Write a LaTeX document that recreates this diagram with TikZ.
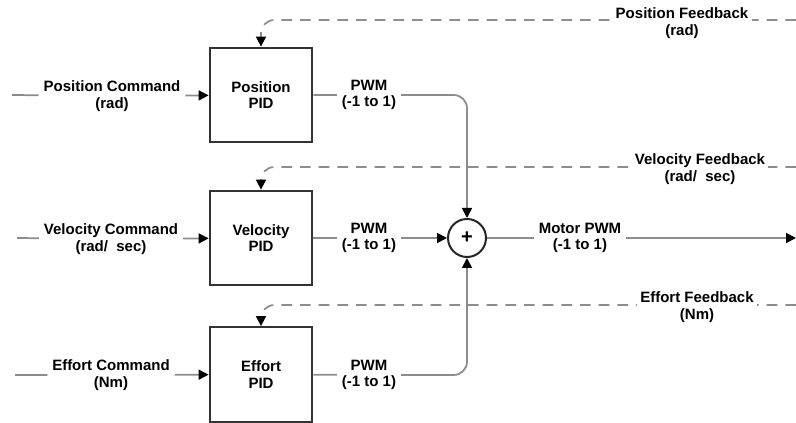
\documentclass[tikz,border=0pt]{standalone}
\usepackage{fontspec}
\setmainfont{Liberation Sans}
\usetikzlibrary{arrows.meta}

\begin{document}
\begin{tikzpicture}[x=0.75pt,y=-0.75pt]
\tikzset{
  pidbox/.style={rectangle,draw=black!80,line width=1.6pt,minimum width=77pt,minimum height=71pt,inner sep=0pt,align=center,font=\fontsize{11.25}{12.5}\selectfont\bfseries},
  sumnode/.style={circle,draw=black!85,line width=1.5pt,minimum size=28.5pt,inner sep=0pt,font=\fontsize{15}{15}\selectfont\bfseries},
  sig/.style={inner sep=3.5pt,align=center,font=\fontsize{11.25}{12.5}\selectfont\bfseries},
  fblabel/.style={sig,fill=white,inner sep=2.5pt},
  wire/.style={draw=black!45,line width=1.3pt},
  feed/.style={wire,dash pattern=on 8pt off 6pt,rounded corners=10pt},
  arrowed/.style={-{Triangle[length=7.5pt,width=7.5pt,color=black]}}
}
\useasboundingbox (0,0) rectangle (796,423);
% blocks
\node[pidbox] (n_posPID) at (261,95) {Position\\PID};
\node[pidbox] (n_velPID) at (261,238) {Velocity\\PID};
\node[pidbox] (n_effPID) at (261,374.5) {Effort\\PID};
\node[sumnode] (n_sum) at (467,238) {+};
% signal labels
\node[sig] (l_posCmd) at (112,96) {Position Command\\(rad)};
\node[sig] (l_velCmd) at (111,239) {Velocity Command\\(rad/\ \ sec)};
\node[sig] (l_effCmd) at (111,375) {Effort Command\\(Nm)};
\node[sig] (l_pwmP) at (369,95) {PWM\\(-1 to 1)};
\node[sig] (l_pwmV) at (369,238) {PWM\\(-1 to 1)};
\node[sig] (l_pwmE) at (369,375) {PWM\\(-1 to 1)};
\node[sig] (l_motor) at (580,238) {Motor PWM\\(-1 to 1)};
% free ends
\coordinate (c_posIn) at (12,95);
\coordinate (c_velIn) at (17,238);
\coordinate (c_effIn) at (15,375);
\coordinate (c_out) at (796,238);
\coordinate (c_posFb) at (796,20);
\coordinate (c_velFb) at (796,167);
\coordinate (c_effFb) at (796,305);
% commands
\draw[wire,arrowed] (c_posIn) -- (l_posCmd) -- (n_posPID);
\draw[wire,arrowed] (c_velIn) -- (l_velCmd) -- (n_velPID);
\draw[wire,arrowed] (c_effIn) -- (l_effCmd) -- (n_effPID);
% pid outputs into the sum
\draw[wire,arrowed,rounded corners=10pt] (n_posPID) -- (l_pwmP) -| (n_sum);
\draw[wire,arrowed] (n_velPID) -- (l_pwmV) -- (n_sum);
\draw[wire,arrowed,rounded corners=10pt] (n_effPID) -- (l_pwmE) -| (n_sum);
\draw[wire,arrowed] (n_sum) -- (l_motor) -- (c_out);
% feedback
\draw[feed,arrowed] (c_posFb) -| (n_posPID);
\draw[feed,arrowed] (c_velFb) -| (n_velPID);
\draw[feed,arrowed] (c_effFb) -| (n_effPID);
\node[fblabel] (l_posFb) at (682,23) {Position Feedback\\(rad)};
\node[fblabel] (l_velFb) at (700,169) {Velocity Feedback\\(rad/\ \ sec)};
\node[fblabel] (l_effFb) at (697,307) {Effort Feedback\\(Nm)};
\end{tikzpicture}
\end{document}
